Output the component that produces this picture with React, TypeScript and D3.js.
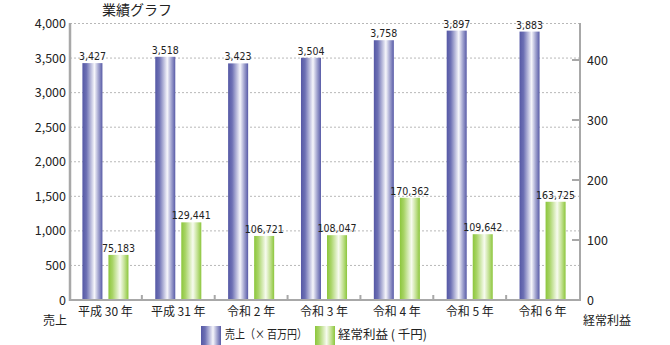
import React from "react";
import * as d3 from "d3";

const categories = ["平成 30 年", "平成 31 年", "令和 2 年", "令和 3 年", "令和 4 年", "令和 5 年", "令和 6 年"];
const sales = [3427, 3518, 3423, 3504, 3758, 3897, 3883];
const profit = [75183, 129441, 106721, 108047, 170362, 109642, 163725];
const leftTicks = [0, 500, 1000, 1500, 2000, 2500, 3000, 3500, 4000];
const rightTicks = [0, 100000, 200000, 300000, 400000];
const seriesKeys = ["sales", "profit"];

const W = 670;
const H = 345;
const JP = "'Noto Sans CJK JP', 'Noto Sans', sans-serif";
const NUM = "'Liberation Sans Narrow', 'DejaVu Sans Condensed', 'Noto Sans', sans-serif";

export default function App() {
  const x = d3.scaleBand<string>().domain(categories).range([69, 579]).paddingInner(0).paddingOuter(0);
  const sub = d3
    .scaleBand<string>()
    .domain(seriesKeys)
    .range([13.4, x.bandwidth() - 13.4])
    .paddingInner(0.2308)
    .paddingOuter(0);
  const yL = d3.scaleLinear().domain([0, 4000]).range([300, 23.5]);
  const yR = d3.scaleLinear().domain([0, 460000]).range([300, 24]);
  const fmt = d3.format(",");
  const axisColor = "#a8a8a8";

  return (
    <div style={{ position: "absolute", left: 0, top: 0, width: W, height: H }}>
      <svg width={W} height={H} style={{ display: "block", background: "#fff" }}>
        <defs>
          <linearGradient id="gBlue" x1="0" x2="1" y1="0" y2="0">
            <stop offset="0" stopColor="#5558a5" />
            <stop offset="0.2" stopColor="#6d70b4" />
            <stop offset="0.6" stopColor="#f6f6fb" />
            <stop offset="0.8" stopColor="#a3a5d0" />
            <stop offset="1" stopColor="#585ba7" />
          </linearGradient>
          <linearGradient id="gGreen" x1="0" x2="1" y1="0" y2="0">
            <stop offset="0" stopColor="#8cc63c" />
            <stop offset="0.2" stopColor="#a8d466" />
            <stop offset="0.58" stopColor="#f7fbef" />
            <stop offset="0.8" stopColor="#c3e193" />
            <stop offset="1" stopColor="#8cc63c" />
          </linearGradient>
        </defs>

        {/* title */}
        <text x={102} y={15} fontFamily={JP} fontSize={14} fill="#222">業績グラフ</text>

        {/* gridlines */}
        {leftTicks.map((t) => (
          <line key={"g" + t} x1={70} x2={579} y1={yL(t)} y2={yL(t)} stroke="#b8b8b8" strokeDasharray="2,2" strokeWidth={1} />
        ))}

        {/* left tick labels */}
        {leftTicks.map((t) => (
          <text key={"l" + t} x={66} y={yL(t) + 4.5} textAnchor="end" fontFamily={JP} fontSize={12.5} fill="#222">
            {fmt(t)}
          </text>
        ))}

        {/* right axis */}
        <line x1={580} x2={580} y1={23} y2={301} stroke={axisColor} strokeWidth={2} />
        {rightTicks.map((t) => (
          <g key={"r" + t}>
            {t > 0 && <line x1={572} x2={580} y1={yR(t)} y2={yR(t)} stroke={axisColor} strokeWidth={2} />}
            <text x={587} y={yR(t) + 4.5} fontFamily={JP} fontSize={12.5} fill="#222">
              {t / 1000}
            </text>
          </g>
        ))}

        {/* bars */}
        {categories.map((c, i) => {
          const x0 = x(c) as number;
          const bs = sub("sales") as number;
          const bp = sub("profit") as number;
          const bw = sub.bandwidth();
          return (
            <g key={c}>
              <rect x={x0 + bs} y={yL(sales[i])} width={bw} height={300 - yL(sales[i])} fill="url(#gBlue)" />
              <text x={x0 + bs + bw / 2} y={yL(sales[i]) - 3} textAnchor="middle" fontFamily={NUM} fontSize={10.5} fill="#222">
                {fmt(sales[i])}
              </text>
              <rect x={x0 + bp} y={yR(profit[i])} width={bw} height={300 - yR(profit[i])} fill="url(#gGreen)" />
              <text x={x0 + bp + bw / 2} y={yR(profit[i]) - 3} textAnchor="middle" fontFamily={NUM} fontSize={10.5} fill="#222">
                {fmt(profit[i])}
              </text>
            </g>
          );
        })}

        {/* left axis */}
        <line x1={70} x2={70} y1={23} y2={301} stroke={axisColor} strokeWidth={2.5} />
        {/* bottom axis */}
        <line x1={69} x2={581} y1={300} y2={300} stroke={axisColor} strokeWidth={2} />
        {categories.slice(1).map((c) => (
          <line key={"t" + c} x1={x(c) as number} x2={x(c) as number} y1={295} y2={300} stroke={axisColor} strokeWidth={2} />
        ))}

        {/* category labels */}
        {categories.map((c) => (
          <text key={"c" + c} x={(x(c) as number) + x.bandwidth() / 2} y={316} textAnchor="middle" fontFamily={JP} fontSize={12} fill="#222">
            {c}
          </text>
        ))}

        {/* axis titles */}
        <text x={43} y={325} fontFamily={JP} fontSize={12} fill="#222">売上</text>
        <text x={583} y={325} fontFamily={JP} fontSize={12} fill="#222">経常利益</text>

        {/* legend */}
        <rect x={201} y={326} width={20} height={19} fill="url(#gBlue)" />
        <text x={225} y={339} fontFamily={JP} fontSize={12} fill="#222" textLength={82} lengthAdjust="spacingAndGlyphs">売上（× 百万円）</text>
        <rect x={315} y={326} width={20} height={19} fill="url(#gGreen)" />
        <text x={338} y={339} fontFamily={JP} fontSize={12.5} fill="#222">経常利益 ( 千円)</text>
      </svg>
    </div>
  );
}
